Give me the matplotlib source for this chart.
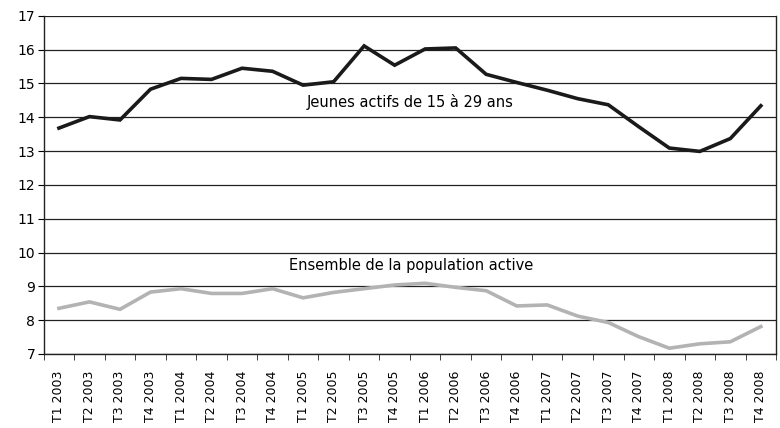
import matplotlib.pyplot as plt
import numpy as np

quarters = []
for year in range(2003, 2009):
    for q in range(1, 5):
        quarters.append('T%d %d' % (q, year))

jeunes = [13.68, 14.02, 13.92, 14.83, 15.15, 15.12, 15.45, 15.36, 14.95, 15.05,
          16.11, 15.54, 16.02, 16.05, 15.27, 15.03, 14.80, 14.55, 14.37, 13.72,
          13.09, 12.99, 13.37, 14.34]
ensemble = [8.35, 8.54, 8.32, 8.83, 8.93, 8.79, 8.79, 8.93, 8.66, 8.82,
            8.93, 9.04, 9.09, 8.97, 8.87, 8.42, 8.45, 8.12, 7.93, 7.51,
            7.17, 7.30, 7.36, 7.81]

fig = plt.figure(figsize=(7.8, 4.28), dpi=100)
ax = fig.add_axes([0.056, 0.173, 0.939, 0.79])

x = np.arange(len(quarters))
ax.plot(x, jeunes, color='#1a1a1a', lw=2.6, solid_joinstyle='miter')
ax.plot(x, ensemble, color='#b3b3b3', lw=2.6, solid_joinstyle='miter')

ax.set_xlim(-0.5, len(quarters) - 0.5)
ax.set_ylim(7, 17)
ax.set_yticks(range(7, 18))
ax.yaxis.grid(True, color='#222222', lw=0.9)
ax.set_axisbelow(True)

ax.set_xticks(x)
ax.set_xticklabels(quarters, rotation=90, fontsize=9)
ax.set_xticks(np.arange(-0.5, len(quarters), 1), minor=True)
ax.tick_params(axis='x', which='major', length=0, pad=12)
ax.tick_params(axis='x', which='minor', length=4, direction='out', color='#222222')
ax.tick_params(axis='y', labelsize=10, length=4, direction='out', pad=2)

for side in ['left', 'bottom', 'right']:
    ax.spines[side].set_color('#222222')
    ax.spines[side].set_linewidth(1.0)
ax.spines['top'].set_visible(False)

ax.text(11.5, 14.45, 'Jeunes actifs de 15 à 29 ans', fontsize=10.5, ha='center', va='center')
ax.text(11.55, 9.63, 'Ensemble de la population active', fontsize=10.5, ha='center', va='center')

fig.savefig('out.png', dpi=100)
